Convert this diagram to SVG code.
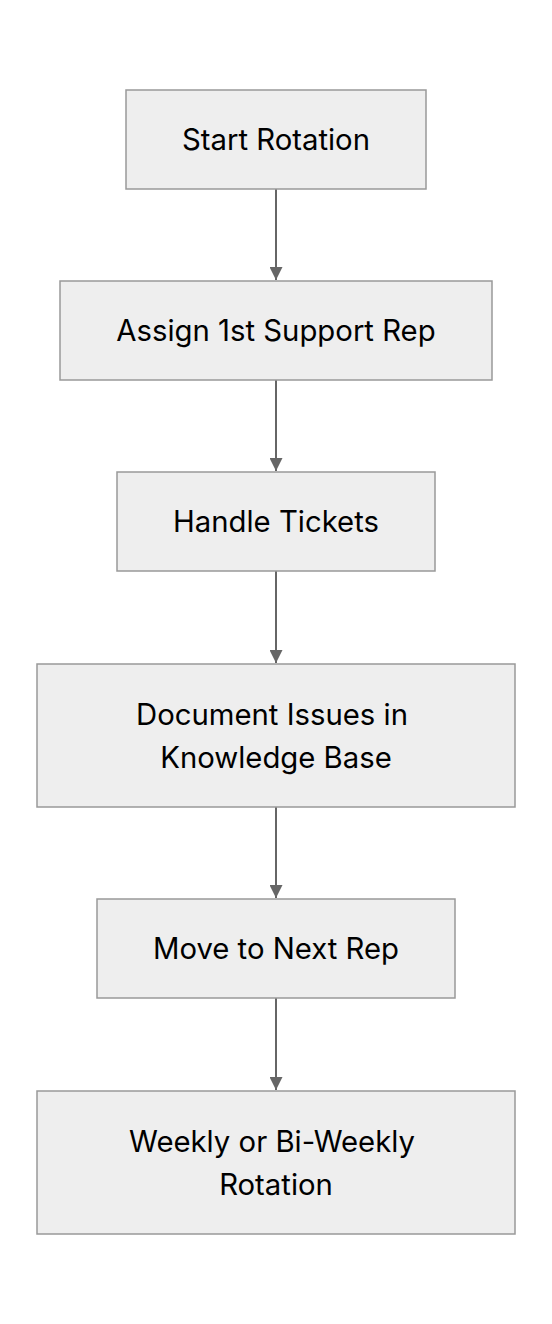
<svg xmlns="http://www.w3.org/2000/svg" width="552" height="1324" viewBox="0 0 552 1324">
<style>
.node rect{fill:#eeeeee;stroke:#999999;stroke-width:1.5}
.node text{font-family:Inter,"Liberation Sans",sans-serif;font-size:29.3px;fill:#000;text-anchor:middle;dominant-baseline:central}
.edges line{stroke:#666666;stroke-width:2}
</style>
<defs>
<marker id="arrow" viewBox="0 0 10 10" refX="10" refY="5" markerWidth="6.5" markerHeight="6.5" orient="auto" markerUnits="strokeWidth">
<path d="M0,0 L10,5 L0,10 z" fill="#666666"/>
</marker>
</defs>
<rect width="552" height="1324" fill="#ffffff"/>
<g class="edges">
<line x1="276" y1="189" x2="276" y2="280" marker-end="url(#arrow)"/>
<line x1="276" y1="380" x2="276" y2="471" marker-end="url(#arrow)"/>
<line x1="276" y1="571" x2="276" y2="663" marker-end="url(#arrow)"/>
<line x1="276" y1="807" x2="276" y2="898" marker-end="url(#arrow)"/>
<line x1="276" y1="998" x2="276" y2="1090" marker-end="url(#arrow)"/>
</g>
<g id="n1" class="node"><rect x="126" y="90" width="300" height="99"/><text x="276" y="139.5">Start Rotation</text></g>
<g id="n2" class="node"><rect x="60" y="281" width="432" height="99"/><text x="276" y="330.5">Assign 1st Support Rep</text></g>
<g id="n3" class="node"><rect x="117" y="472" width="318" height="99"/><text x="276" y="521.5">Handle Tickets</text></g>
<g id="n4" class="node"><rect x="37" y="664" width="478" height="143"/><text x="272" y="714">Document Issues in</text><text x="276" y="757">Knowledge Base</text></g>
<g id="n5" class="node"><rect x="97" y="899" width="358" height="99"/><text x="276" y="948.5">Move to Next Rep</text></g>
<g id="n6" class="node"><rect x="37" y="1091" width="478" height="143"/><text x="272" y="1141">Weekly or Bi-Weekly</text><text x="276" y="1184">Rotation</text></g>
</svg>
